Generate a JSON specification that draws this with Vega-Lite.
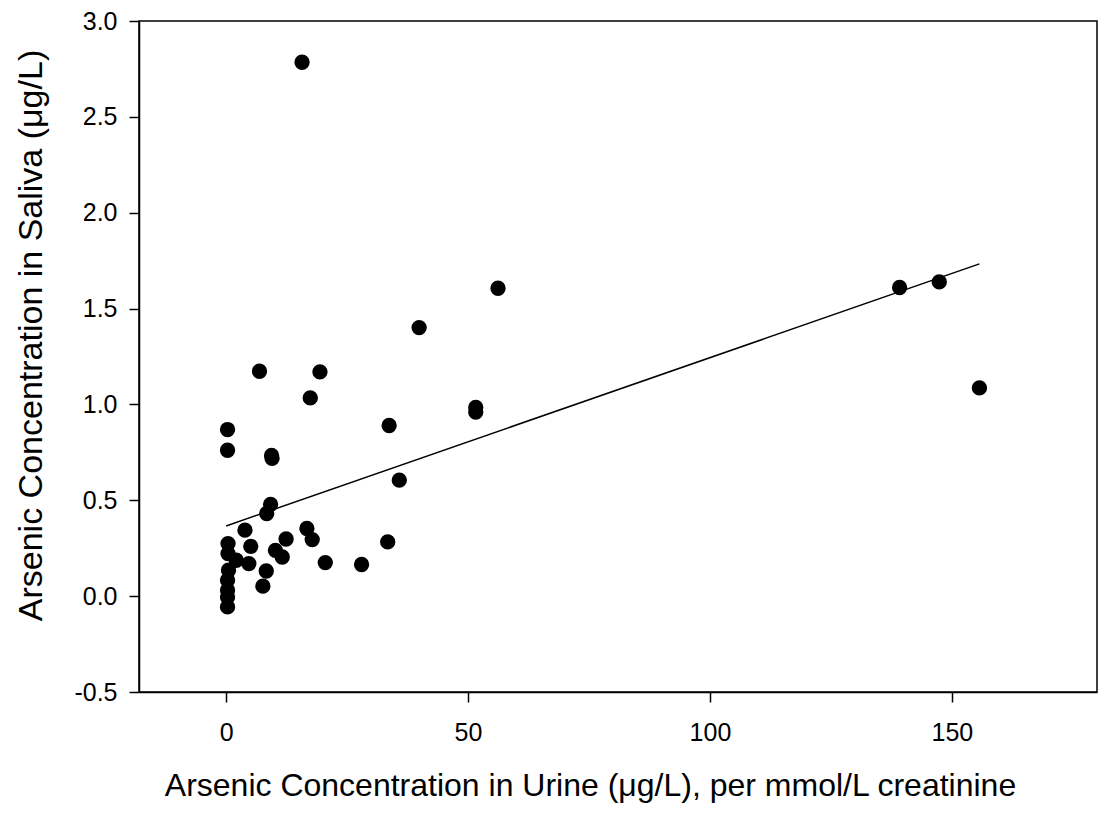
{
  "$schema": "https://vega.github.io/schema/vega-lite/v6.json",
  "autosize": "none",
  "width": 958,
  "height": 671,
  "padding": {"left": 139, "top": 21, "right": 3, "bottom": 121},
  "background": "white",
  "config": {
    "view": {"stroke": "black", "strokeWidth": 1.5},
    "font": "Liberation Sans",
    "axis": {
      "grid": false,
      "domainColor": "black",
      "domainWidth": 1.5,
      "tickColor": "black",
      "tickWidth": 1.5,
      "tickSize": 10,
      "labelColor": "black",
      "titleColor": "black",
      "labelFont": "Liberation Sans",
      "titleFont": "Liberation Sans",
      "labelFontSize": 25,
      "titleFontSize": 32,
      "titleFontWeight": "normal"
    }
  },
  "datasets": {
    "points": [
      {"urine": 15.7, "saliva": 2.785},
      {"urine": 56.2, "saliva": 1.606},
      {"urine": 39.9, "saliva": 1.401},
      {"urine": 6.9, "saliva": 1.173},
      {"urine": 19.4, "saliva": 1.17},
      {"urine": 17.4, "saliva": 1.034},
      {"urine": 51.6, "saliva": 0.985},
      {"urine": 51.6, "saliva": 0.96},
      {"urine": 33.7, "saliva": 0.89},
      {"urine": 0.3, "saliva": 0.869},
      {"urine": 0.3, "saliva": 0.761},
      {"urine": 9.4, "saliva": 0.734},
      {"urine": 9.5, "saliva": 0.719},
      {"urine": 35.8, "saliva": 0.605},
      {"urine": 9.2, "saliva": 0.479},
      {"urine": 8.4, "saliva": 0.431},
      {"urine": 16.7, "saliva": 0.353},
      {"urine": 3.9, "saliva": 0.344},
      {"urine": 12.4, "saliva": 0.298},
      {"urine": 17.8, "saliva": 0.295},
      {"urine": 33.4, "saliva": 0.283},
      {"urine": 0.4, "saliva": 0.274},
      {"urine": 5.1, "saliva": 0.26},
      {"urine": 10.2, "saliva": 0.239},
      {"urine": 0.4, "saliva": 0.222},
      {"urine": 11.6, "saliva": 0.204},
      {"urine": 2.1, "saliva": 0.187},
      {"urine": 20.5, "saliva": 0.175},
      {"urine": 4.7, "saliva": 0.17},
      {"urine": 28.0, "saliva": 0.165},
      {"urine": 0.5, "saliva": 0.135},
      {"urine": 8.3, "saliva": 0.131},
      {"urine": 0.3, "saliva": 0.083},
      {"urine": 7.6, "saliva": 0.052},
      {"urine": 0.3, "saliva": 0.031},
      {"urine": 0.3, "saliva": -0.005},
      {"urine": 0.3, "saliva": -0.056},
      {"urine": 139.2, "saliva": 1.61},
      {"urine": 147.4, "saliva": 1.639},
      {"urine": 155.7, "saliva": 1.086}
    ],
    "fit": [
      {"urine": 0.0, "saliva": 0.366},
      {"urine": 155.7, "saliva": 1.733}
    ]
  },
  "layer": [
    {
      "data": {"name": "fit"},
      "mark": {"type": "line", "color": "black", "strokeWidth": 1.5},
      "encoding": {
        "x": {"field": "urine", "type": "quantitative"},
        "y": {"field": "saliva", "type": "quantitative"}
      }
    },
    {
      "data": {"name": "points"},
      "mark": {"type": "point", "shape": "circle", "filled": true, "color": "black", "opacity": 1, "size": 235, "strokeWidth": 0},
      "encoding": {
        "x": {
          "field": "urine",
          "type": "quantitative",
          "scale": {"domain": [-18, 180], "nice": false, "zero": false},
          "axis": {
            "values": [0, 50, 100, 150],
            "labelPadding": 18,
            "title": "Arsenic Concentration in Urine (μg/L), per mmol/L creatinine",
            "titleX": 451,
            "titleY": 78
          }
        },
        "y": {
          "field": "saliva",
          "type": "quantitative",
          "scale": {"domain": [-0.5, 3.0], "nice": false, "zero": false},
          "axis": {
            "values": [-0.5, 0, 0.5, 1.0, 1.5, 2.0, 2.5, 3.0],
            "labelExpr": "datum.value < 0 ? '-' + format(-datum.value, '.1f') : format(datum.value, '.1f')",
            "labelPadding": 12,
            "title": "Arsenic Concentration in Saliva (μg/L)",
            "titleFontSize": 34,
            "titleX": -108,
            "titleY": 314,
            "titleBaseline": "middle"
          }
        }
      }
    }
  ]
}
